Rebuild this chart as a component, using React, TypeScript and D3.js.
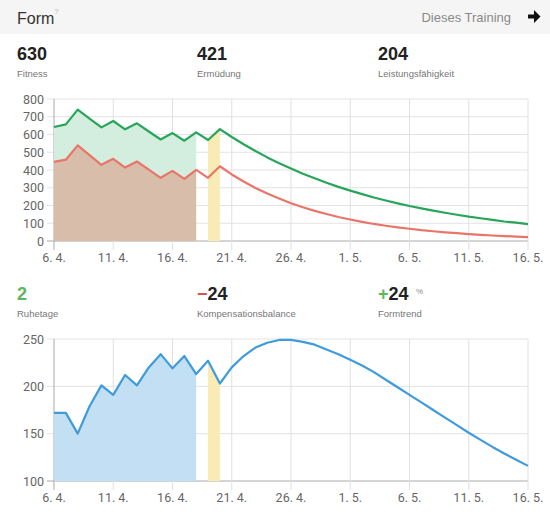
import * as d3 from "d3";
import { useEffect, useRef } from "react";

// daily values, 6. 4. .. 16. 5.
const startDate = new Date(2015, 3, 6);
const fitness = [
  642, 657, 740, 690, 640, 676, 629, 663, 617, 572, 608, 565, 612, 569, 630,
  586, 545, 507, 471, 438, 408, 379, 353, 328, 305,
  284, 264, 245, 228, 212, 197, 184, 171, 159, 148, 137, 128, 119, 110, 103, 95,
];
const fatigue = [
  446, 458, 539, 484, 429, 463, 414, 448, 402, 356, 395, 350, 401, 356, 421,
  375, 335, 299, 267, 239, 213, 190, 170, 152, 135,
  121, 108, 96, 86, 77, 69, 61, 55, 49, 44, 39, 35, 31, 28, 25, 22,
];
const performance = [
  172, 172, 150, 179, 201, 191, 212, 201, 220, 234, 219, 232, 213, 227, 203,
  220, 232, 241, 246, 249, 249, 247, 244, 239, 234,
  228, 222, 215, 207, 199, 191, 183, 175, 167, 159, 151, 143.5, 136, 129, 122.5, 116,
];
const pastDays = 13; // 6. 4. .. 18. 4. filled
const trainingDays = [13, 14]; // 19. 4. .. 20. 4. highlighted
const topTicks = [0, 100, 200, 300, 400, 500, 600, 700, 800];
const bottomTicks = [100, 150, 200, 250];

const topStats = [
  { value: "630", label: "Fitness" },
  { value: "421", label: "Ermüdung" },
  { value: "204", label: "Leistungsfähigkeit" },
];

const dates = fitness.map((_, i) => d3.timeDay.offset(startDate, i));
const fmt = (d: Date) => `${d.getDate()}. ${d.getMonth() + 1}.`;

const W = 550;
const H = 515;
const left = 54;
const right = 528;

function App() {
  const ref = useRef<SVGSVGElement | null>(null);

  useEffect(() => {
    const svg = d3.select(ref.current);
    svg.selectAll("*").remove();

    const x = d3
      .scaleTime()
      .domain([dates[0], dates[dates.length - 1]])
      .range([left, right]);
    const xTicks = dates.filter((_, i) => i % 5 === 0);

    svg.append("rect").attr("width", W).attr("height", H).attr("fill", "#fff");
    svg.append("rect").attr("width", W).attr("height", 34).attr("fill", "#f5f5f5");

    const font = "'Liberation Sans', Arial, sans-serif";
    svg.append("text").attr("x", 17).attr("y", 24).attr("font-family", font)
      .attr("font-size", 16).attr("fill", "#333").text("Form");
    svg.append("text").attr("x", 54).attr("y", 14).attr("font-family", font)
      .attr("font-size", 8).attr("fill", "#bbb").text("?");
    svg.append("text").attr("x", 511).attr("y", 22).attr("text-anchor", "end")
      .attr("font-family", font).attr("font-size", 13).attr("fill", "#8a8a8a")
      .text("Dieses Training");
    svg.append("path")
      .attr("d", "M528,14.5 h6 v-4.5 l6.5,6.5 l-6.5,6.5 v-4.5 h-6 z")
      .attr("fill", "#111");

    const statCols = [17, 197, 378];
    topStats.forEach((s, i) => {
      svg.append("text").attr("x", statCols[i]).attr("y", 60).attr("font-family", font)
        .attr("font-size", 18).attr("font-weight", "bold").attr("fill", "#222").text(s.value);
      svg.append("text").attr("x", statCols[i]).attr("y", 77).attr("font-family", font)
        .attr("font-size", 9.5).attr("fill", "#777").text(s.label);
    });

    // second row of stats
    const r2 = 300;
    svg.append("text").attr("x", 17).attr("y", r2).attr("font-family", font)
      .attr("font-size", 18).attr("font-weight", "bold").attr("fill", "#5cb85c").text("2");
    const t2 = svg.append("text").attr("x", 197).attr("y", r2).attr("font-family", font)
      .attr("font-size", 18).attr("font-weight", "bold");
    t2.append("tspan").attr("fill", "#d9534f").text("\u2212");
    t2.append("tspan").attr("fill", "#222").text("24");
    const t3 = svg.append("text").attr("x", 378).attr("y", r2).attr("font-family", font)
      .attr("font-size", 18).attr("font-weight", "bold");
    t3.append("tspan").attr("fill", "#5cb85c").text("+");
    t3.append("tspan").attr("fill", "#222").text("24");
    svg.append("text").attr("x", 416).attr("y", 294).attr("font-family", font)
      .attr("font-size", 8).attr("fill", "#888").text("%");
    [["Ruhetage", 17], ["Kompensationsbalance", 197], ["Formtrend", 378]].forEach(([l, cx]) => {
      svg.append("text").attr("x", cx as number).attr("y", 317).attr("font-family", font)
        .attr("font-size", 9.5).attr("fill", "#777").text(l as string);
    });

    const drawChart = (
      top: number,
      bottom: number,
      domain: [number, number],
      ticks: number[],
      series: { values: number[]; line: string; fill: string; base?: number[] }[],
      highlight: number[]
    ) => {
      const y = d3.scaleLinear().domain(domain).range([bottom, top]);
      const g = svg.append("g");
      const axisFont = "Roboto, sans-serif";

      // horizontal grid
      g.selectAll(".hg").data(ticks).join("line")
        .attr("x1", left - 7).attr("x2", right)
        .attr("y1", (d) => y(d)).attr("y2", (d) => y(d))
        .attr("stroke", (d) => (d === domain[0] ? "#aaa" : "#e3e3e3"));
      g.selectAll(".yl").data(ticks).join("text")
        .attr("x", 44).attr("y", (d) => y(d) + 4.5).attr("text-anchor", "end")
        .attr("font-family", axisFont).attr("font-size", 12.5).attr("fill", "#666")
        .text((d) => d);
      // vertical grid
      g.selectAll(".vg").data(xTicks).join("line")
        .attr("x1", (d) => x(d)).attr("x2", (d) => x(d))
        .attr("y1", top).attr("y2", bottom + 9)
        .attr("stroke", (d, i) => (i === 0 ? "#aaa" : "#e0e0e0"));
      g.selectAll(".xl").data(xTicks).join("text")
        .attr("x", (d) => x(d)).attr("y", bottom + 21).attr("text-anchor", "middle")
        .attr("font-family", axisFont).attr("font-size", 12.5).attr("fill", "#666")
        .text((d) => fmt(d));

      // filled areas for past days and the training days
      series.forEach((s) => {
        const area = d3.area<number>()
          .x((_, i) => x(dates[i]))
          .y0((_, i) => y(s.base ? s.base[i] : domain[0]))
          .y1((d) => y(d));
        const past = s.values.map((v, i) => (i < pastDays ? v : NaN));
        g.append("path")
          .attr("d", area.defined((d) => !isNaN(d))(past))
          .attr("fill", s.fill);
      });
      const main = series[0].values;
      const hl = d3.area<number>()
        .defined((_, i) => highlight.includes(i))
        .x((_, i) => x(dates[i]))
        .y0(y(domain[0]))
        .y1((d) => y(d));
      g.append("path").attr("d", hl(main)).attr("fill", "#f9ebb4");

      series.forEach((s) => {
        const line = d3.line<number>().x((_, i) => x(dates[i])).y((d) => y(d));
        g.append("path").attr("d", line(s.values)).attr("fill", "none")
          .attr("stroke", s.line).attr("stroke-width", 2.2).attr("stroke-linejoin", "round");
      });
    };

    drawChart(99, 241, [0, 800], topTicks, [
      { values: fitness, line: "#27a65a", fill: "#d3eedf", base: fatigue },
      { values: fatigue, line: "#e9756a", fill: "#d8bdab" },
    ], trainingDays);

    drawChart(339, 481, [100, 250], bottomTicks, [
      { values: performance, line: "#3f9bdb", fill: "#c2dff3" },
    ], trainingDays);
  }, []);

  return (
    <svg
      ref={ref}
      width={W}
      height={H}
      style={{ position: "absolute", left: 0, top: 0 }}
    ></svg>
  );
}

export default App;
